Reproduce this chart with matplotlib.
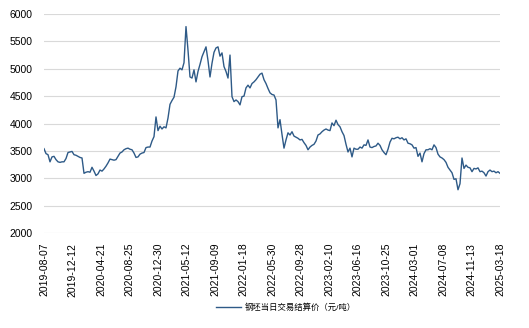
import numpy as np
import matplotlib
matplotlib.use("Agg")
import matplotlib.pyplot as plt

plt.rcParams['font.family'] = ['Liberation Sans', 'Noto Sans CJK SC', 'DejaVu Sans']

# 钢坯当日交易结算价（元/吨），按交易日顺序
price = [
    3540, 3450, 3430, 3300, 3390, 3400, 3340, 3300, 3290, 3300,
    3300, 3360, 3470, 3480, 3490, 3430, 3420, 3400, 3380, 3370,
    3090, 3110, 3120, 3110, 3200, 3130, 3050, 3080, 3150, 3130,
    3170, 3220, 3280, 3350, 3340, 3330, 3340, 3400, 3460, 3480,
    3520, 3540, 3550, 3530, 3520, 3460, 3380, 3390, 3440, 3460,
    3470, 3560, 3570, 3570, 3680, 3760, 4120, 3870, 3950, 3900,
    3940, 3920, 4100, 4350, 4420, 4480, 4670, 4960, 5010, 4980,
    5110, 5770, 5340, 4850, 4830, 4980, 4760, 4950, 5080, 5220,
    5310, 5400, 5150, 4850, 5100, 5300, 5380, 5400, 5230, 5290,
    5040, 4950, 4830, 5250, 4490, 4400, 4430, 4400, 4340, 4490,
    4500, 4650, 4700, 4650, 4730, 4760, 4800, 4850, 4900, 4920,
    4800, 4730, 4640, 4560, 4530, 4520, 4430, 3920, 4070, 3800,
    3550, 3700, 3830, 3790, 3850, 3770, 3750, 3730, 3700, 3710,
    3650, 3600, 3520, 3570, 3600, 3620, 3680, 3790, 3810, 3850,
    3880, 3900, 3880, 3870, 4010, 3960, 4060, 3980, 3940, 3850,
    3780, 3620, 3480, 3550, 3390, 3550, 3530, 3530, 3570, 3550,
    3610, 3600, 3700, 3570, 3560, 3580, 3590, 3640, 3600, 3520,
    3470, 3430, 3530, 3660, 3730, 3720, 3740, 3750, 3720, 3740,
    3700, 3720, 3640, 3630, 3610, 3550, 3560, 3400, 3460, 3300,
    3450, 3520, 3520, 3540, 3520, 3610, 3560, 3440, 3390, 3370,
    3340, 3290, 3200, 3150, 3100, 2980, 2990, 2790, 2900, 3370,
    3180, 3240, 3200, 3190, 3120, 3180, 3170, 3190, 3120, 3130,
    3100, 3040, 3120, 3150, 3120, 3130, 3100, 3120, 3090,
]

date_labels = [
    "2019-08-07", "2019-12-12", "2020-04-21", "2020-08-25", "2020-12-30",
    "2021-05-12", "2021-09-09", "2022-01-18", "2022-05-30", "2022-09-28",
    "2023-02-10", "2023-06-16", "2023-10-25", "2024-03-01", "2024-07-08",
    "2024-11-13", "2025-03-18",
]

y_ticks = [2000, 2500, 3000, 3500, 4000, 4500, 5000, 5500, 6000]

x = np.arange(len(price))

fig = plt.figure(figsize=(5.29, 3.28), dpi=100)
ax = fig.add_axes([44 / 529, 1 - 233 / 328, 456 / 529, 219 / 328])

ax.plot(x, price, color='#2e5a87', linewidth=1.0,
        label='钢坯当日交易结算价（元/吨）')

ax.set_xlim(0, len(price) - 1)
ax.set_ylim(2000, 6000)
ax.set_yticks(y_ticks)
ax.set_yticklabels([str(v) for v in y_ticks], fontsize=7.5)
ax.set_xticks(np.linspace(0, len(price) - 1, len(date_labels)))
ax.set_xticklabels(date_labels, rotation=90, fontsize=7.5)
ax.tick_params(axis='both', length=0, colors='black')
ax.tick_params(axis='y', pad=8)
ax.tick_params(axis='x', pad=7)

ax.grid(axis='y', color='#d9d9d9', linewidth=0.8)
ax.set_axisbelow(True)
for s in ax.spines.values():
    s.set_visible(False)

fig.legend(loc='center', bbox_to_anchor=(286 / 529, 1 - 308 / 328),
           frameon=False, fontsize=6, handlelength=3.0, handletextpad=0.5)

fig.savefig('out.png', dpi=100)
